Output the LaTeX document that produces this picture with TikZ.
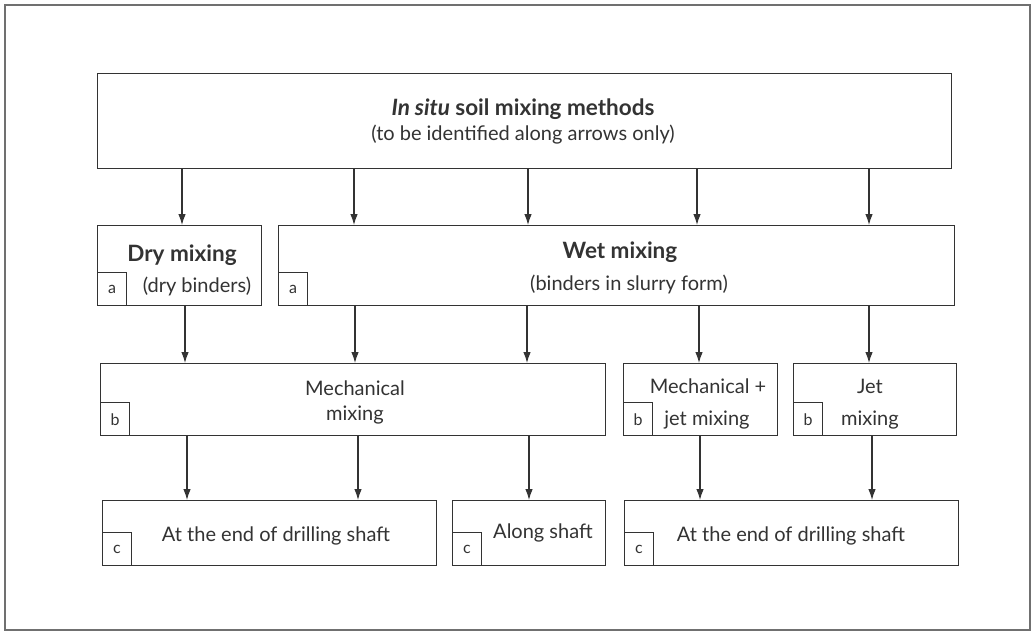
\documentclass[tikz,border=0pt]{standalone}
\usepackage{fontspec}
\setmainfont{Lato}
\usetikzlibrary{arrows.meta}
\definecolor{ink}{HTML}{333333}
\begin{document}
\begin{tikzpicture}[x=1pt,y=-1pt,
  box/.style={draw=ink,line width=1.3pt,anchor=north west,inner sep=0pt,fill=white},
  tag/.style={draw=ink,line width=1pt,anchor=south west,inner sep=0pt,minimum width=29pt,minimum height=33pt,font=\fontsize{16}{16}\selectfont,text=ink},
  lbl/.style={inner sep=0pt,anchor=base,font=\fontsize{20}{20}\selectfont,text=ink},
  blbl/.style={inner sep=0pt,anchor=base,font=\fontsize{22.5}{22.5}\selectfont\bfseries,text=ink},
  arr/.style={draw=ink,line width=1.1pt,-{Latex[length=11pt,width=7.5pt]}}]
\useasboundingbox (0,0) rectangle (1036,634);
\fill[white] (0,0) rectangle (1036,634);
\draw[draw=ink!70,line width=1.2pt] (5,5) rectangle (1030,630);
% boxes
\node[box,minimum width=854pt,minimum height=95pt] (top) at (97,73) {};
\node[box,minimum width=164pt,minimum height=80pt] (dry) at (97,225) {};
\node[box,minimum width=676pt,minimum height=80pt] (wet) at (278,225) {};
\node[box,minimum width=505pt,minimum height=72pt] (mech) at (100,363) {};
\node[box,minimum width=154pt,minimum height=72pt] (mjet) at (623,363) {};
\node[box,minimum width=163pt,minimum height=72pt] (jet) at (793,363) {};
\node[box,minimum width=334pt,minimum height=65pt] (endA) at (102,500) {};
\node[box,minimum width=153pt,minimum height=65pt] (along) at (452,500) {};
\node[box,minimum width=334pt,minimum height=65pt] (endB) at (624,500) {};
% tags
\node[tag] (ta1) at (dry.south west) {a};
\node[tag] (ta2) at (wet.south west) {a};
\node[tag] (tb1) at (mech.south west) {b};
\node[tag] (tb2) at (mjet.south west) {b};
\node[tag] (tb3) at (jet.south west) {b};
\node[tag] (tc1) at (endA.south west) {c};
\node[tag] (tc2) at (along.south west) {c};
\node[tag] (tc3) at (endB.south west) {c};
% texts
\node[blbl] (t1) at (523,115) {\textit{In situ} soil mixing methods};
\node[lbl] (t2) at (523,140) {(to be identified along arrows only)};
\node[blbl] (t3) at (182,261) {Dry mixing};
\node[lbl] (t4) at (197,292) {(dry binders)};
\node[blbl] (t5) at (620,258) {Wet mixing};
\node[lbl] (t6) at (629,290) {(binders in slurry form)};
\node[lbl] (t7) at (355,395) {Mechanical};
\node[lbl] (t8) at (355,420) {mixing};
\node[lbl] (t9) at (708,393) {Mechanical +};
\node[lbl] (t10) at (707,425) {jet mixing};
\node[lbl] (t11) at (870,393) {Jet};
\node[lbl] (t12) at (870,425) {mixing};
\node[lbl] (t13) at (276,541) {At the end of drilling shaft};
\node[lbl] (t14) at (543,538) {Along shaft};
\node[lbl] (t15) at (791,541) {At the end of drilling shaft};
% arrows row 1
\draw[arr] (top.south -| 182,0) -- (dry.north -| 182,0);
\draw[arr] (top.south -| 354,0) -- (wet.north -| 354,0);
\draw[arr] (top.south -| 528,0) -- (wet.north -| 528,0);
\draw[arr] (top.south -| 697,0) -- (wet.north -| 697,0);
\draw[arr] (top.south -| 869,0) -- (wet.north -| 869,0);
% arrows row 2
\draw[arr] (dry.south -| 185,0) -- (mech.north -| 185,0);
\draw[arr] (wet.south -| 355,0) -- (mech.north -| 355,0);
\draw[arr] (wet.south -| 527,0) -- (mech.north -| 527,0);
\draw[arr] (wet.south -| 699,0) -- (mjet.north -| 699,0);
\draw[arr] (wet.south -| 869,0) -- (jet.north -| 869,0);
% arrows row 3
\draw[arr] (mech.south -| 187,0) -- (endA.north -| 187,0);
\draw[arr] (mech.south -| 358,0) -- (endA.north -| 358,0);
\draw[arr] (mech.south -| 529,0) -- (along.north -| 529,0);
\draw[arr] (mjet.south -| 700,0) -- (endB.north -| 700,0);
\draw[arr] (jet.south -| 872,0) -- (endB.north -| 872,0);
\end{tikzpicture}
\end{document}
